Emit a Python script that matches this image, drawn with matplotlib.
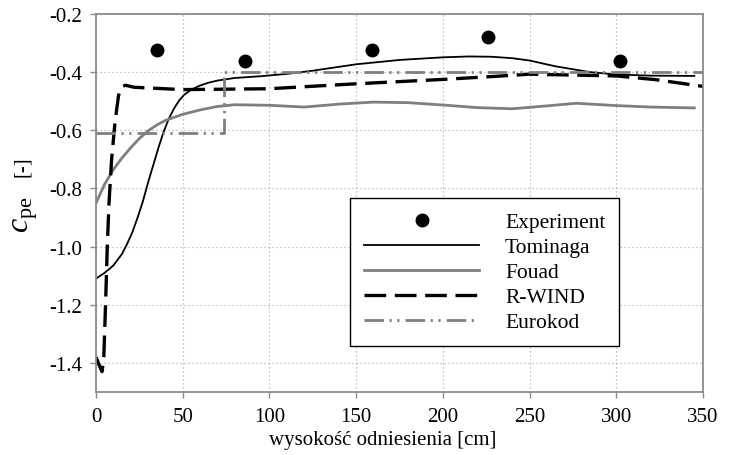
import matplotlib
matplotlib.use("Agg")
import matplotlib.pyplot as plt

plt.rcParams['font.family'] = ['Liberation Serif', 'DejaVu Serif']
plt.rcParams['mathtext.fontset'] = 'custom'
plt.rcParams['mathtext.rm'] = 'Liberation Serif'
plt.rcParams['mathtext.it'] = 'Liberation Serif:italic'

# Measured pressure coefficients
exp_x = [35, 86, 159, 226, 302]
exp_y = [-0.324, -0.362, -0.324, -0.279, -0.362]

# Tominaga profile
tom_x = [0, 5, 10, 15, 18, 21, 24, 27, 30, 33, 36, 39, 42, 45, 48, 51, 55, 60,
         65, 70, 80, 95, 110, 125, 150, 175, 200, 215, 228, 240, 250, 265, 285,
         300, 320, 345]
tom_y = [-1.11, -1.09, -1.065, -1.025, -0.99, -0.95, -0.9, -0.845, -0.78, -0.72,
         -0.66, -0.605, -0.56, -0.525, -0.497, -0.477, -0.46, -0.446,
         -0.436, -0.429, -0.42, -0.414, -0.406, -0.395, -0.373, -0.358, -0.349,
         -0.346, -0.347, -0.352, -0.36, -0.38, -0.4, -0.408, -0.412, -0.413]

# Fouad profile
fou_x = [0, 5, 10, 15, 20, 25, 30, 35, 40, 50, 60, 70, 80, 100, 120, 140, 160,
         180, 200, 220, 240, 260, 277, 300, 320, 345]
fou_y = [-0.85, -0.785, -0.735, -0.695, -0.66, -0.628, -0.602, -0.582, -0.566,
         -0.545, -0.53, -0.518, -0.512, -0.514, -0.52, -0.51, -0.503,
         -0.505, -0.513, -0.522, -0.526, -0.516, -0.507, -0.515, -0.52, -0.523]

# R-WIND profile
rw_x = [0, 2, 3.5, 4.5, 5.5, 6.5, 7.5, 9, 11, 13, 15, 17, 22, 50, 100, 150, 200,
        237, 250, 300, 323, 350]
rw_y = [-1.38, -1.41, -1.43, -1.38, -1.2, -1.0, -0.85, -0.7, -0.57, -0.48,
        -0.45, -0.445, -0.452, -0.46, -0.457, -0.44, -0.425, -0.412, -0.407,
        -0.413, -0.426, -0.449]

# Eurocode step profile
eur_x = [0, 74, 74, 350]
eur_y = [-0.61, -0.61, -0.40, -0.40]

x_ticks = [0, 50, 100, 150, 200, 250, 300, 350]
y_ticks = [-1.4, -1.2, -1.0, -0.8, -0.6, -0.4, -0.2]

fig = plt.figure(figsize=(7.33, 4.56), dpi=100)
ax = fig.add_axes([96 / 733, 1 - 393 / 456, 607 / 733, 378 / 456])

gray = '#7f7f7f'
ax.plot(exp_x, exp_y, 'o', color='black', ms=9, label='Experiment', zorder=5)
ax.plot(tom_x, tom_y, color='black', lw=1.3, label='Tominaga')
ax.plot(fou_x, fou_y, color=gray, lw=2.0, label='Fouad')
ax.plot(rw_x, rw_y, color='black', lw=2.4, dashes=(6.5, 2.6), label='R-WIND')
ax.plot(eur_x, eur_y, color=gray, lw=2.0,
        dashes=(7, 2, 0.8, 2, 0.8, 2.2), label='Eurokod')

ax.set_xlim(0, 350)
ax.set_ylim(-1.5, -0.2)
ax.set_xticks(x_ticks)
ax.set_yticks(y_ticks)
ax.set_yticklabels([f'{v:.1f}' for v in y_ticks])
ax.grid(True, linestyle=(0, (1, 2.2)), color='#b0b0b0', lw=0.9)
ax.set_axisbelow(True)

for s in ax.spines.values():
    s.set_color('#8c8c8c')
    s.set_linewidth(1.3)
ax.tick_params(direction='out', length=4, width=1, color='#8c8c8c',
               labelsize=15, pad=7)
ax.tick_params(axis='y', pad=6)

ax.set_xlabel('wysokość odniesienia [cm]', fontsize=15)
ax.xaxis.set_label_coords(0.473, -0.1)

# y-axis label: large italic symbol with subscript, unit in smaller type
fig.text(26 / 733, 1 - 233 / 456, r'$c_{\rm pe}$', rotation=90, fontsize=23,
         ha='center', va='bottom')
fig.text(23 / 733, 1 - 167 / 456, '[-]', rotation=90, fontsize=15,
         ha='center', va='center')

leg = ax.legend(loc='upper left', bbox_to_anchor=(350 / 733, 1 - 199 / 456),
                bbox_transform=fig.transFigure, fontsize=15.5, fancybox=False,
                framealpha=1, edgecolor='black', borderaxespad=0,
                handlelength=5.35, handletextpad=1.2, labelspacing=0.23,
                borderpad=0.65, numpoints=1)
leg.get_frame().set_linewidth(1.0)

fig.savefig('out.png', dpi=100)
